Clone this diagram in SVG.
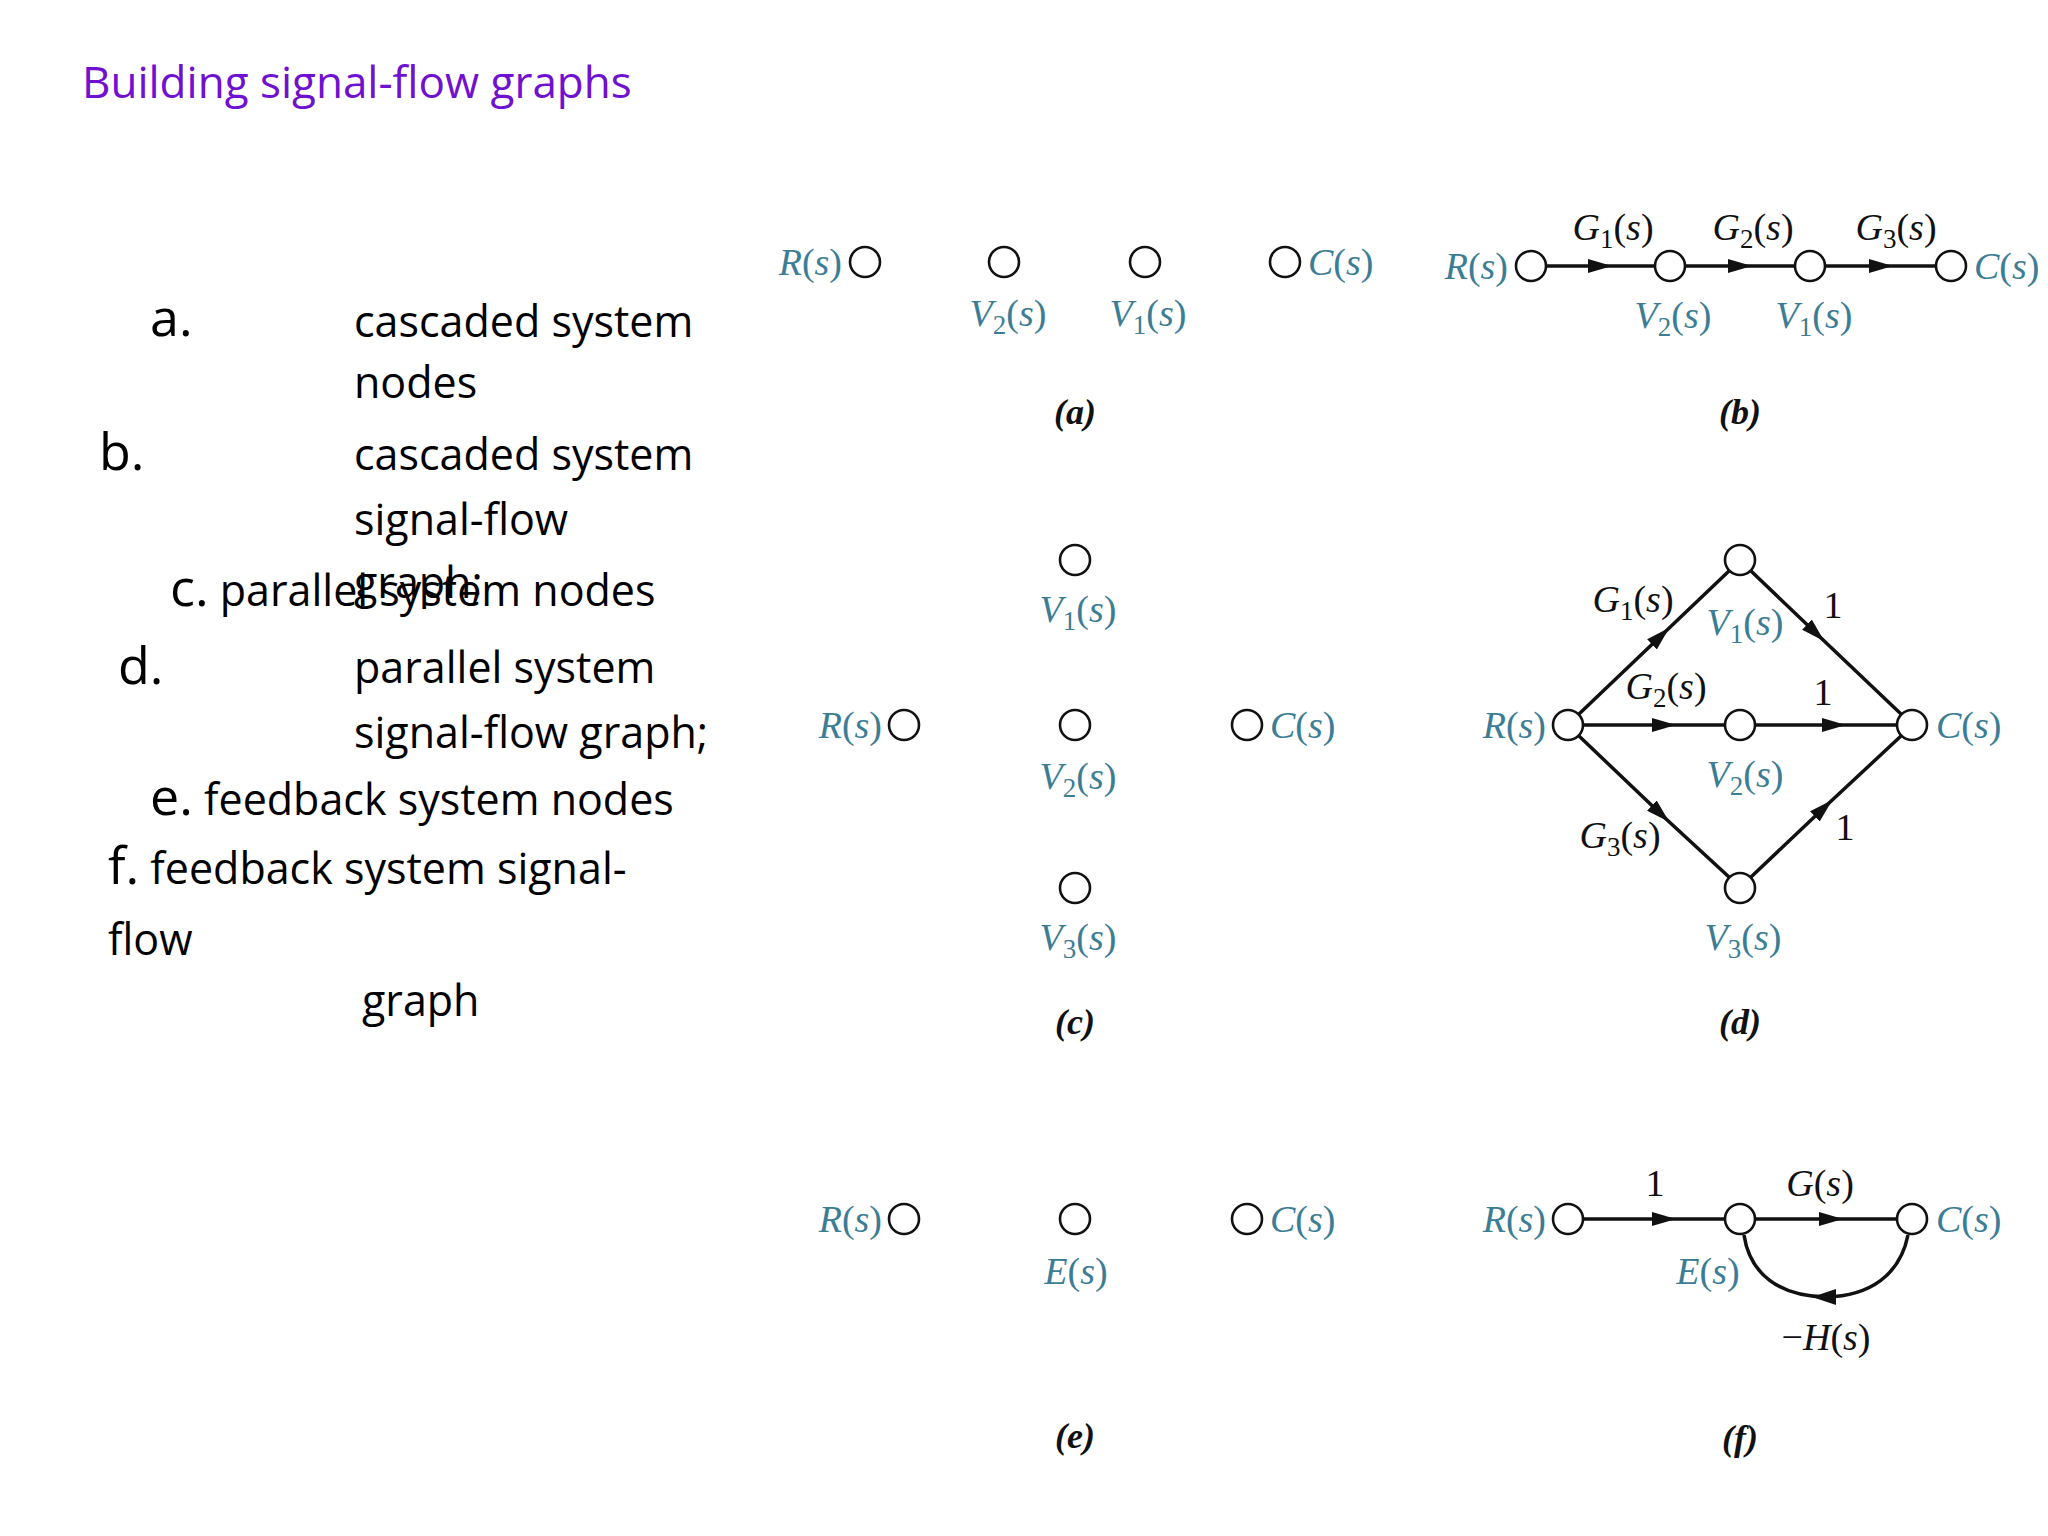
<svg xmlns="http://www.w3.org/2000/svg" width="2048" height="1536" viewBox="0 0 2048 1536">
<style>
.t{font-family:"Open Sans","Liberation Sans",sans-serif;font-size:43px;fill:#000}
.big{font-size:52px}
.title{font-family:"Open Sans","Liberation Sans",sans-serif;font-size:44px;fill:#7010D0}
.lb{font-family:"Liberation Serif",serif;font-style:italic;font-size:38px;fill:#3C7D96}
.g{font-family:"Liberation Serif",serif;font-style:italic;font-size:38px;fill:#111}
.cap{font-family:"Liberation Serif",serif;font-style:italic;font-weight:bold;font-size:36px;fill:#111;text-anchor:middle}
.sb{font-style:normal;font-size:27px}
.up{font-style:normal}
.n{fill:#fff;stroke:#111;stroke-width:2.6}
.e{fill:none;stroke:#111;stroke-width:3.5;marker-mid:url(#ah)}
.arc{fill:none;stroke:#111;stroke-width:3.5}
.m{text-anchor:middle}
.s{text-anchor:start}
.en{text-anchor:end}
</style>
<defs>
<marker id="ah" markerUnits="userSpaceOnUse" markerWidth="26" markerHeight="16" refX="18" refY="8" orient="auto"><path d="M0,1 L24,8 L0,15 Z" fill="#111"/></marker>
</defs>
<rect width="2048" height="1536" fill="#fff"/>
<text class="title" x="82" y="98">Building signal-flow graphs</text>
<g id="left-text">
<text class="t big" x="150" y="336">a.</text>
<text class="t" x="354" y="337">cascaded system</text>
<text class="t" x="354" y="398"> nodes</text>
<text class="t big" x="99" y="470">b.</text>
<text class="t" x="354" y="470">cascaded system</text>
<text class="t" x="354" y="535">signal-flow</text>
<text class="t" x="354" y="598">graph;</text>
<text class="t" x="170" y="606"><tspan class="big">c.</tspan> parallel system nodes</text>
<text class="t big" x="118" y="684">d.</text>
<text class="t" x="354" y="683">parallel system</text>
<text class="t" x="354" y="748">signal-flow graph;</text>
<text class="t" x="150" y="815"><tspan class="big">e.</tspan> feedback system nodes</text>
<text class="t" x="108" y="884"><tspan class="big">f.</tspan> feedback system signal-</text>
<text class="t" x="108" y="955">flow</text>
<text class="t" x="362" y="1016">graph</text>
</g>
<g id="connectors">
<path class="e" d="M1547,266 L1606,266 L1654,266"/>
<path class="e" d="M1686,266 L1746,266 L1794,266"/>
<path class="e" d="M1826,266 L1887,266 L1935,266"/>
<path class="e" d="M1579,714 L1665,632 L1729,571"/>
<path class="e" d="M1584,725 L1670,725 L1724,725"/>
<path class="e" d="M1579,736 L1665,818 L1729,877"/>
<path class="e" d="M1751,571 L1820,637 L1901,714"/>
<path class="e" d="M1756,725 L1840,725 L1896,725"/>
<path class="e" d="M1751,877 L1828,804 L1901,736"/>
<path class="e" d="M1584,1219 L1670,1219 L1724,1219"/>
<path class="e" d="M1756,1219 L1837,1219 L1896,1219"/>
<path class="arc" d="M1908,1235 C1900,1275 1870,1296 1826,1297 C1780,1296 1750,1275 1744,1235"/>
<path d="M1812,1297 L1836,1289 L1836,1305 Z" fill="#111"/>
</g>
<g id="a">
<circle class="n" cx="865" cy="262" r="15"/><circle class="n" cx="1004" cy="262" r="15"/><circle class="n" cx="1145" cy="262" r="15"/><circle class="n" cx="1285" cy="262" r="15"/>
<text class="lb en" x="842" y="275">R<tspan class="up">(</tspan>s<tspan class="up">)</tspan></text>
<text class="lb s" x="1308" y="275">C<tspan class="up">(</tspan>s<tspan class="up">)</tspan></text>
<text class="lb m" x="1008" y="326">V<tspan class="sb" dy="8">2</tspan><tspan class="up" dy="-8">(</tspan>s<tspan class="up">)</tspan></text>
<text class="lb m" x="1148" y="326">V<tspan class="sb" dy="8">1</tspan><tspan class="up" dy="-8">(</tspan>s<tspan class="up">)</tspan></text>
<text class="cap" x="1075" y="424">(a)</text>
</g>
<g id="b">
<circle class="n" cx="1531" cy="266" r="15"/><circle class="n" cx="1670" cy="266" r="15"/><circle class="n" cx="1810" cy="266" r="15"/><circle class="n" cx="1951" cy="266" r="15"/>
<text class="lb en" x="1508" y="279">R<tspan class="up">(</tspan>s<tspan class="up">)</tspan></text>
<text class="lb s" x="1974" y="279">C<tspan class="up">(</tspan>s<tspan class="up">)</tspan></text>
<text class="g m" x="1613" y="240">G<tspan class="sb" dy="8">1</tspan><tspan class="up" dy="-8">(</tspan>s<tspan class="up">)</tspan></text>
<text class="g m" x="1753" y="240">G<tspan class="sb" dy="8">2</tspan><tspan class="up" dy="-8">(</tspan>s<tspan class="up">)</tspan></text>
<text class="g m" x="1896" y="240">G<tspan class="sb" dy="8">3</tspan><tspan class="up" dy="-8">(</tspan>s<tspan class="up">)</tspan></text>
<text class="lb m" x="1673" y="328">V<tspan class="sb" dy="8">2</tspan><tspan class="up" dy="-8">(</tspan>s<tspan class="up">)</tspan></text>
<text class="lb m" x="1814" y="328">V<tspan class="sb" dy="8">1</tspan><tspan class="up" dy="-8">(</tspan>s<tspan class="up">)</tspan></text>
<text class="cap" x="1740" y="424">(b)</text>
</g>
<g id="c">
<circle class="n" cx="1075" cy="560" r="15"/><circle class="n" cx="904" cy="725" r="15"/><circle class="n" cx="1075" cy="725" r="15"/><circle class="n" cx="1247" cy="725" r="15"/><circle class="n" cx="1075" cy="888" r="15"/>
<text class="lb en" x="882" y="738">R<tspan class="up">(</tspan>s<tspan class="up">)</tspan></text>
<text class="lb s" x="1270" y="738">C<tspan class="up">(</tspan>s<tspan class="up">)</tspan></text>
<text class="lb m" x="1078" y="622">V<tspan class="sb" dy="8">1</tspan><tspan class="up" dy="-8">(</tspan>s<tspan class="up">)</tspan></text>
<text class="lb m" x="1078" y="789">V<tspan class="sb" dy="8">2</tspan><tspan class="up" dy="-8">(</tspan>s<tspan class="up">)</tspan></text>
<text class="lb m" x="1078" y="950">V<tspan class="sb" dy="8">3</tspan><tspan class="up" dy="-8">(</tspan>s<tspan class="up">)</tspan></text>
<text class="cap" x="1075" y="1034">(c)</text>
</g>
<g id="d">
<circle class="n" cx="1568" cy="725" r="15"/><circle class="n" cx="1740" cy="560" r="15"/><circle class="n" cx="1740" cy="725" r="15"/><circle class="n" cx="1740" cy="888" r="15"/><circle class="n" cx="1912" cy="725" r="15"/>
<text class="lb en" x="1546" y="738">R<tspan class="up">(</tspan>s<tspan class="up">)</tspan></text>
<text class="lb s" x="1936" y="738">C<tspan class="up">(</tspan>s<tspan class="up">)</tspan></text>
<text class="g m" x="1633" y="612">G<tspan class="sb" dy="8">1</tspan><tspan class="up" dy="-8">(</tspan>s<tspan class="up">)</tspan></text>
<text class="lb m" x="1745" y="635">V<tspan class="sb" dy="8">1</tspan><tspan class="up" dy="-8">(</tspan>s<tspan class="up">)</tspan></text>
<text class="g up m" x="1833" y="618">1</text>
<text class="g m" x="1666" y="699">G<tspan class="sb" dy="8">2</tspan><tspan class="up" dy="-8">(</tspan>s<tspan class="up">)</tspan></text>
<text class="g up m" x="1823" y="705">1</text>
<text class="lb m" x="1745" y="787">V<tspan class="sb" dy="8">2</tspan><tspan class="up" dy="-8">(</tspan>s<tspan class="up">)</tspan></text>
<text class="g m" x="1620" y="848">G<tspan class="sb" dy="8">3</tspan><tspan class="up" dy="-8">(</tspan>s<tspan class="up">)</tspan></text>
<text class="g up m" x="1845" y="840">1</text>
<text class="lb m" x="1743" y="950">V<tspan class="sb" dy="8">3</tspan><tspan class="up" dy="-8">(</tspan>s<tspan class="up">)</tspan></text>
<text class="cap" x="1740" y="1034">(d)</text>
</g>
<g id="e">
<circle class="n" cx="904" cy="1219" r="15"/><circle class="n" cx="1075" cy="1219" r="15"/><circle class="n" cx="1247" cy="1219" r="15"/>
<text class="lb en" x="882" y="1232">R<tspan class="up">(</tspan>s<tspan class="up">)</tspan></text>
<text class="lb s" x="1270" y="1232">C<tspan class="up">(</tspan>s<tspan class="up">)</tspan></text>
<text class="lb m" x="1076" y="1284">E<tspan class="up">(</tspan>s<tspan class="up">)</tspan></text>
<text class="cap" x="1075" y="1448">(e)</text>
</g>
<g id="f">
<circle class="n" cx="1568" cy="1219" r="15"/><circle class="n" cx="1740" cy="1219" r="15"/><circle class="n" cx="1912" cy="1219" r="15"/>
<text class="lb en" x="1546" y="1232">R<tspan class="up">(</tspan>s<tspan class="up">)</tspan></text>
<text class="lb s" x="1936" y="1232">C<tspan class="up">(</tspan>s<tspan class="up">)</tspan></text>
<text class="g up m" x="1655" y="1196">1</text>
<text class="g m" x="1820" y="1196">G<tspan class="up">(</tspan>s<tspan class="up">)</tspan></text>
<text class="lb m" x="1708" y="1284">E<tspan class="up">(</tspan>s<tspan class="up">)</tspan></text>
<text class="g m" x="1826" y="1350"><tspan class="up">−</tspan>H<tspan class="up">(</tspan>s<tspan class="up">)</tspan></text>
<text class="cap" x="1740" y="1450">(f)</text>
</g>
</svg>
